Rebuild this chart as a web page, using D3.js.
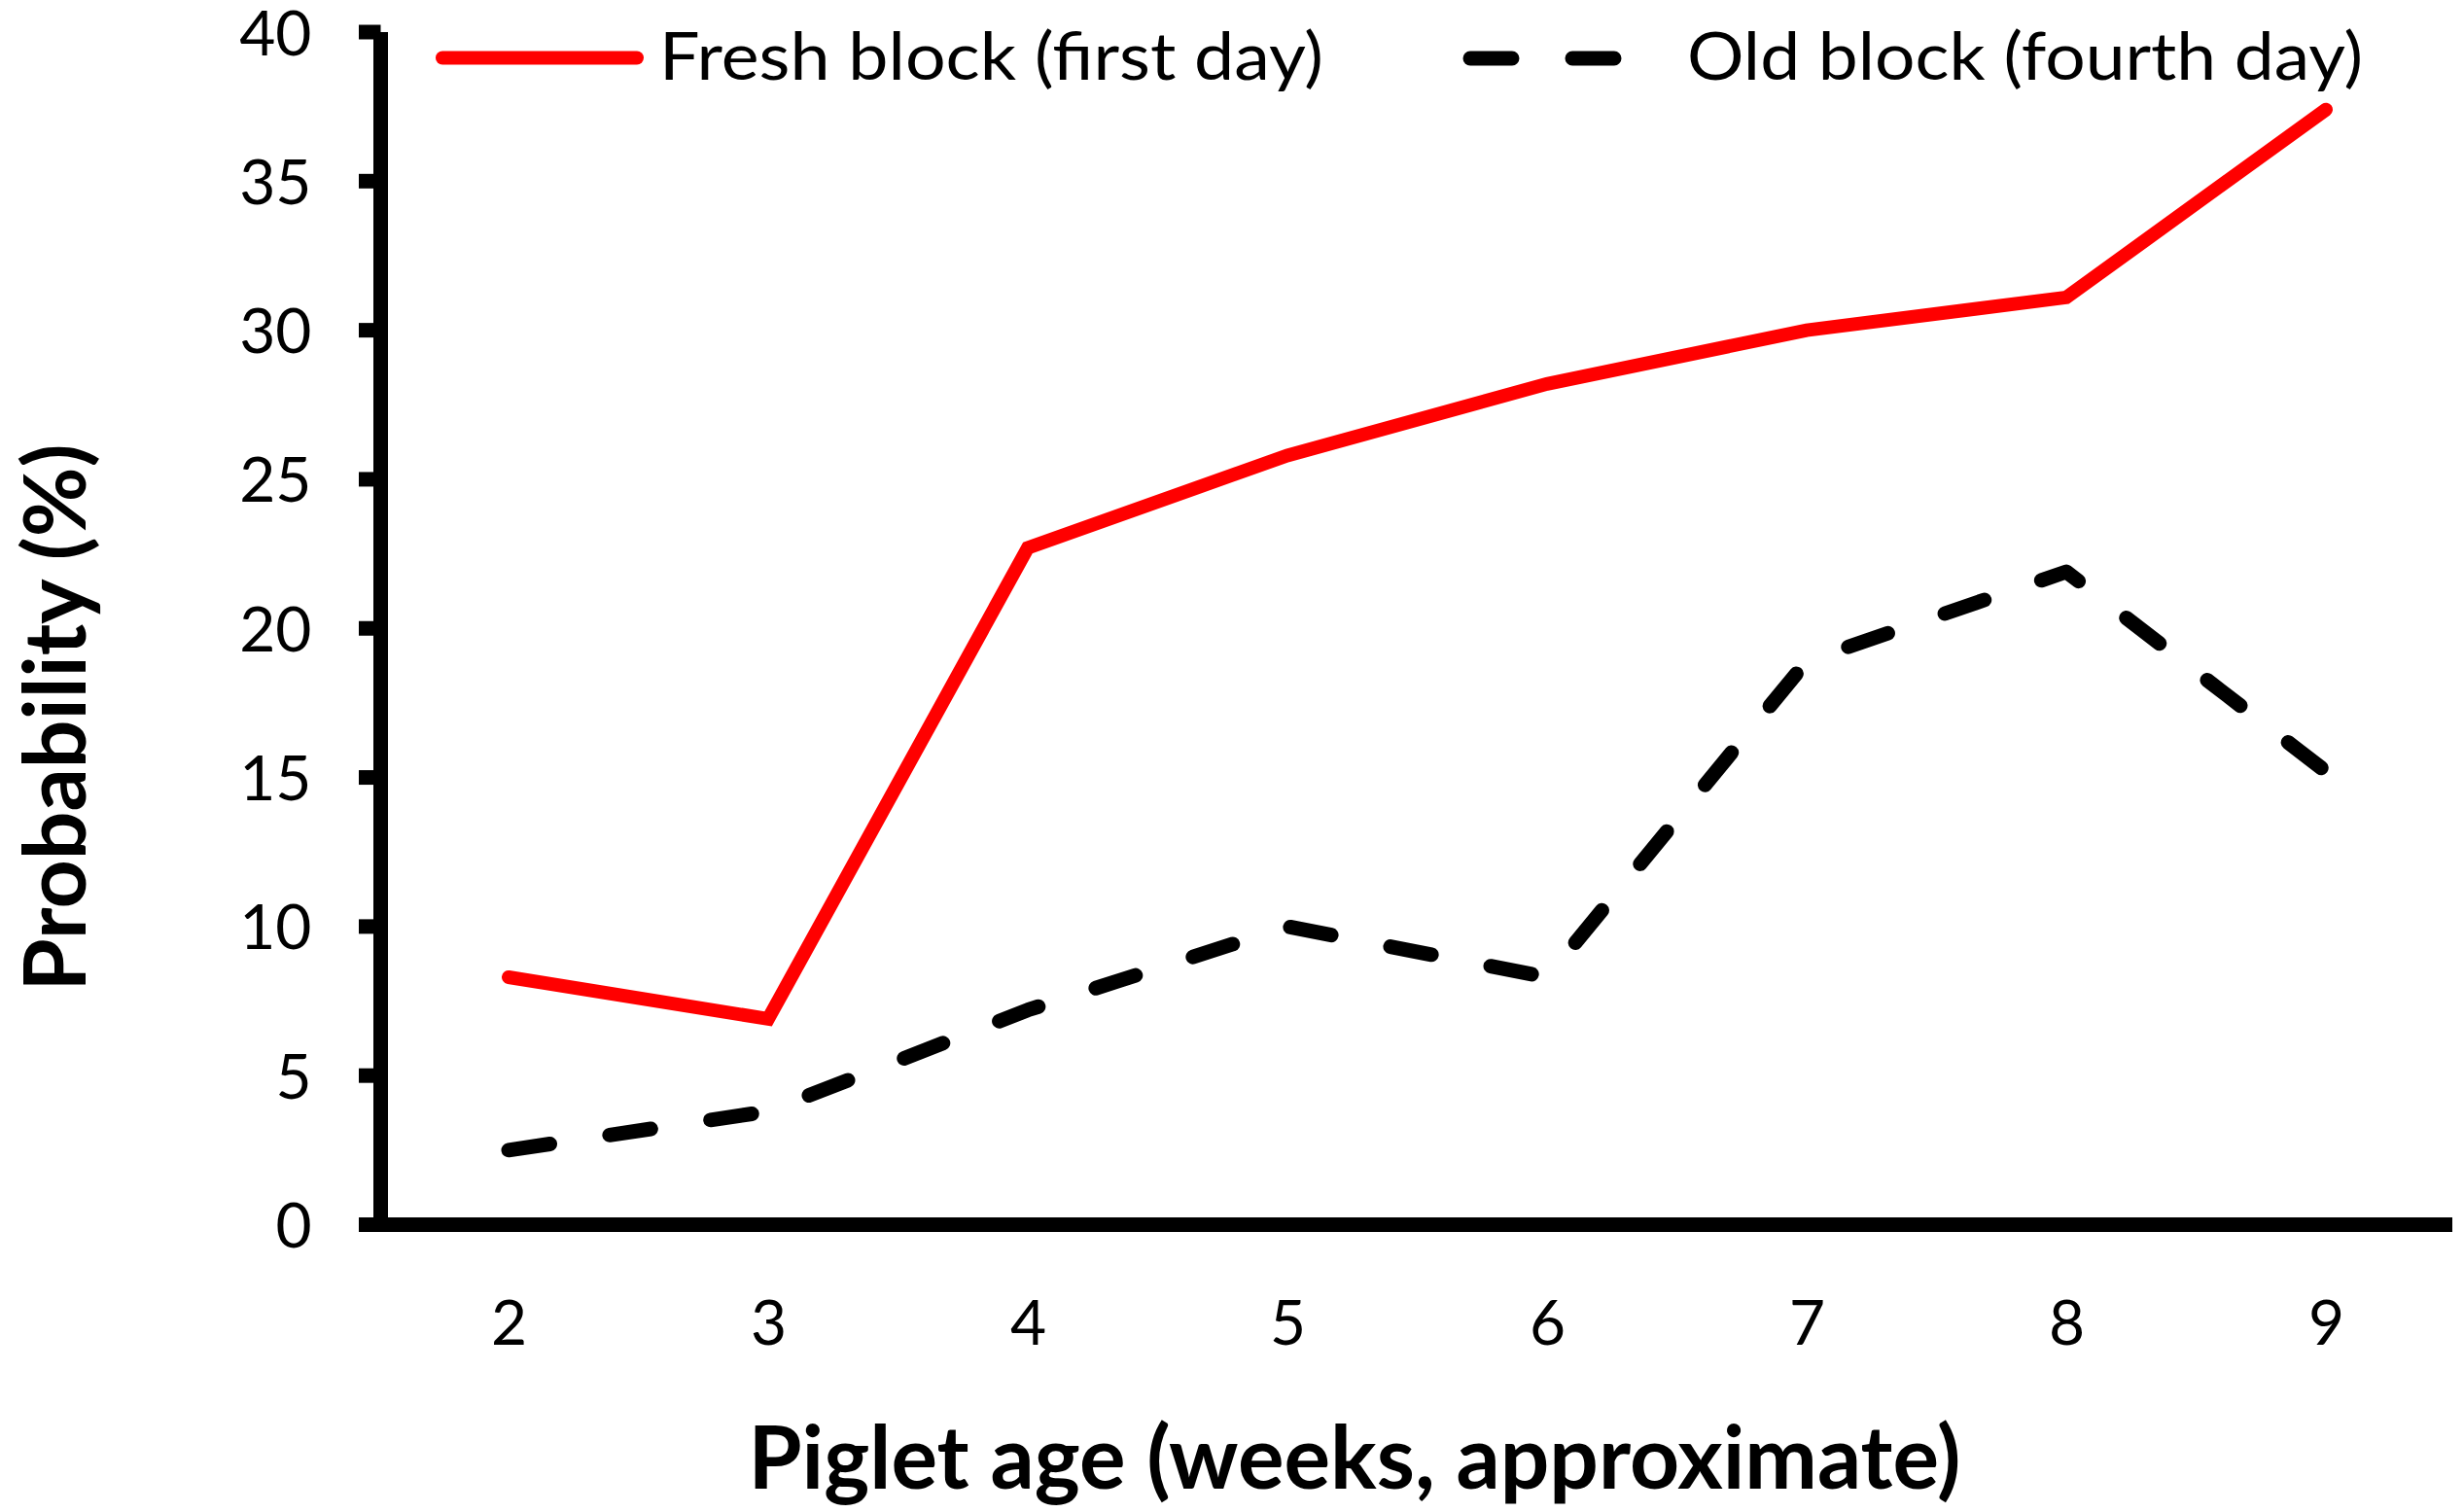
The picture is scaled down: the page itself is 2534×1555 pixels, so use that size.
<!DOCTYPE html>
<html>
<head>
<meta charset="utf-8">
<script src="https://cdn.jsdelivr.net/npm/d3@7"></script>
<style>
  html, body { margin: 0; padding: 0; background: #fff; }
  svg { display: block; }
</style>
</head>
<body>
<svg id="chart" width="2534" height="1555"></svg>
<script>
// ---- data ----
const weeks = [2, 3, 4, 5, 6, 7, 8, 9];
const freshBlock = [8.3, 6.9, 22.7, 25.8, 28.2, 30.0, 31.1, 37.4];
const oldBlock = [2.5, 3.8, 7.2, 10.0, 8.3, 18.9, 21.9, 15.2];
const yTicks = [0, 5, 10, 15, 20, 25, 30, 35, 40];
const seriesNames = ["Fresh block (first day)", "Old block (fourth day)"];
const xTitle = "Piglet age (weeks, approximate)";
const yTitle = "Probability (%)";

const svg = d3.select("#chart");
const FONT = "Lato, 'Open Sans', sans-serif";

const x = d3.scaleLinear().domain([2, 9]).range([523, 2392]);
const y = d3.scaleLinear().domain([0, 40]).range([1259.5, 33]);
const axisX = 391.5;

// y axis ticks + labels
const yAxis = d3.axisLeft(y).tickValues(yTicks).tickSizeInner(0).tickSizeOuter(0).tickPadding(71);
const gy = svg.append("g").attr("transform", `translate(${axisX},0)`).call(yAxis);
gy.select(".domain").remove();
gy.selectAll(".tick line").remove();
gy.selectAll(".tick text")
  .attr("font-family", FONT).attr("font-size", 64).attr("fill", "#000")
  .attr("dy", "0.36em");

// thick tick marks
svg.append("g").selectAll("line").data(yTicks).join("line")
  .attr("x1", 369).attr("x2", axisX)
  .attr("y1", d => y(d)).attr("y2", d => y(d))
  .attr("stroke", "#000").attr("stroke-width", 15);

// y axis line
svg.append("line")
  .attr("x1", axisX).attr("x2", axisX)
  .attr("y1", y(40)).attr("y2", y(0) + 7.5)
  .attr("stroke", "#000").attr("stroke-width", 15);

// x axis
const xAxis = d3.axisBottom(x).tickValues(weeks).tickSize(0).tickFormat(d3.format("d"));
const gx = svg.append("g").attr("transform", `translate(0,${y(0)})`).call(xAxis);
gx.select(".domain").remove();
gx.selectAll(".tick text")
  .attr("font-family", FONT).attr("font-size", 64).attr("fill", "#000")
  .attr("y", 123.5).attr("dy", 0);

svg.append("line")
  .attr("x1", 369).attr("x2", 2522)
  .attr("y1", y(0)).attr("y2", y(0))
  .attr("stroke", "#000").attr("stroke-width", 15);

// lines
const line = d3.line().x((d, i) => x(weeks[i])).y(d => y(d));

svg.append("path").datum(oldBlock)
  .attr("d", line).attr("fill", "none")
  .attr("stroke", "#000").attr("stroke-width", 15)
  .attr("stroke-dasharray", "43,62").attr("stroke-linecap", "round")
  .attr("stroke-linejoin", "round");

svg.append("path").datum(freshBlock)
  .attr("d", line).attr("fill", "none")
  .attr("stroke", "#ff0000").attr("stroke-width", 14)
  .attr("stroke-linejoin", "miter").attr("stroke-linecap", "round");

// legend
svg.append("line").attr("x1", 455).attr("x2", 655).attr("y1", 59.5).attr("y2", 59.5)
  .attr("stroke", "#ff0000").attr("stroke-width", 14).attr("stroke-linecap", "round");
svg.append("text").attr("x", 678).attr("y", 82)
  .attr("font-family", FONT).attr("font-size", 68).attr("fill", "#000")
  .attr("textLength", 683).attr("lengthAdjust", "spacingAndGlyphs")
  .text(seriesNames[0]);

svg.append("line").attr("x1", 1512).attr("x2", 1665).attr("y1", 60).attr("y2", 60)
  .attr("stroke", "#000").attr("stroke-width", 15)
  .attr("stroke-dasharray", "43,62").attr("stroke-linecap", "round");
svg.append("text").attr("x", 1735).attr("y", 82)
  .attr("font-family", FONT).attr("font-size", 68).attr("fill", "#000")
  .attr("textLength", 695).attr("lengthAdjust", "spacingAndGlyphs")
  .text(seriesNames[1]);

// axis titles
svg.append("text").attr("x", 1393).attr("y", 1531)
  .attr("text-anchor", "middle")
  .attr("font-family", FONT).attr("font-weight", "bold").attr("font-size", 90).attr("fill", "#000")
  .attr("textLength", 1247).attr("lengthAdjust", "spacingAndGlyphs")
  .text(xTitle);

svg.append("text")
  .attr("transform", "translate(88,738) rotate(-90)")
  .attr("text-anchor", "middle")
  .attr("font-family", FONT).attr("font-weight", "bold").attr("font-size", 88).attr("fill", "#000")
  .attr("textLength", 563).attr("lengthAdjust", "spacingAndGlyphs")
  .text(yTitle);
</script>
</body>
</html>
